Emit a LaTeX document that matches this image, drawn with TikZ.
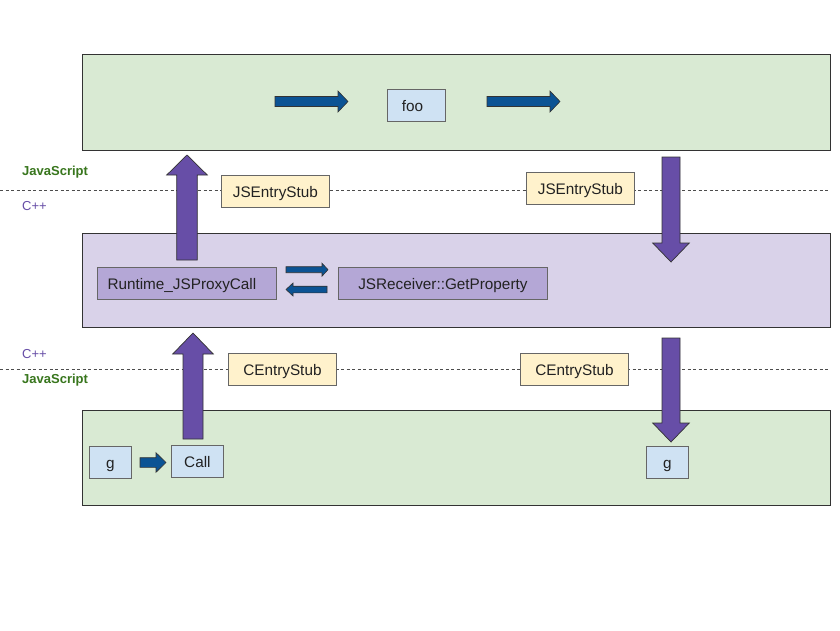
\documentclass[tikz,border=0pt]{standalone}
\usepackage{fontspec}
\setmainfont{Liberation Sans}
\definecolor{gbox}{HTML}{D9EAD3}
\definecolor{pbox}{HTML}{D9D2E9}
\definecolor{bbox}{HTML}{CFE2F3}
\definecolor{ybox}{HTML}{FFF2CC}
\definecolor{rbox}{HTML}{B4A7D6}
\definecolor{parrow}{HTML}{674EA7}
\definecolor{barrow}{HTML}{0B5394}
\definecolor{jsgreen}{HTML}{38761D}
\definecolor{cpurple}{HTML}{674EA7}
\definecolor{edge}{HTML}{333333}
\definecolor{txt}{HTML}{222222}
\newcommand\myharrow[6]{% xstart, xbase, xtip, y, h, H
  (#1,{#4-#5}) -- (#2,{#4-#5}) -- (#2,{#4-#6}) -- (#3,#4) -- (#2,{#4+#6}) -- (#2,{#4+#5}) -- (#1,{#4+#5}) -- cycle}
\newcommand\myvarrow[6]{% x, ystart, ybase, ytip, w, W
  ({#1-#5},#2) -- ({#1-#5},#3) -- ({#1-#6},#3) -- (#1,#4) -- ({#1+#6},#3) -- ({#1+#5},#3) -- ({#1+#5},#2) -- cycle}
\tikzset{
  layer/.style={draw=edge, line width=0.9pt, anchor=north west, inner sep=0pt},
  item/.style={draw=black!60, line width=0.8pt, anchor=north west, inner sep=0pt,
    text height=12.5pt, text depth=0pt,
    font=\fontsize{15.3}{17}\selectfont, text=txt},
  jsbox/.style={item, fill=bbox},
  stubbox/.style={item, fill=ybox},
  rtbox/.style={item, fill=rbox},
  sep/.style={draw=black!70, line width=0.7pt, dash pattern=on 3pt off 2.5pt},
  lbljs/.style={anchor=west, inner sep=0pt, text=jsgreen, font=\fontsize{13}{15}\selectfont\bfseries},
  lblcpp/.style={anchor=west, inner sep=0pt, text=cpurple, font=\fontsize{13}{15}\selectfont},
  bigarrow/.style={fill=parrow, draw=edge, line width=0.7pt},
  smallarrow/.style={fill=barrow, draw=edge, line width=0.6pt},
}
\begin{document}
\begin{tikzpicture}[x=1pt,y=-1pt]
\useasboundingbox[fill=white] (0,0) rectangle (840,630);
% separators
\coordinate (s1a) at (0,190); \coordinate (s1b) at (830,190);
\coordinate (s2a) at (0,369); \coordinate (s2b) at (830,369);
\draw[sep] (s1a) -- (s1b);
\draw[sep] (s2a) -- (s2b);
\node[lbljs] (js1) at (22,172) {JavaScript};
\node[lblcpp] (cpp1) at (22,206.5) {C++};
\node[lblcpp] (cpp2) at (22,354.5) {C++};
\node[lbljs] (js2) at (22,380) {JavaScript};
% layers
\node[layer, fill=gbox, minimum width=748pt, minimum height=96pt] (jstop) at (82,54) {};
\node[layer, fill=pbox, minimum width=748pt, minimum height=94pt] (cpp) at (82,233) {};
\node[layer, fill=gbox, minimum width=748pt, minimum height=95pt] (jsbot) at (82,410) {};
% items
\node[jsbox, minimum width=58pt, minimum height=32pt] (foo) at (387,89) {foo\hspace*{8pt}};
\node[rtbox, minimum width=179pt, minimum height=32pt] (rt) at (97,267) {Runtime\_JSProxyCall\hspace*{10pt}};
\node[rtbox, minimum width=209pt, minimum height=32pt] (recv) at (338,267) {JSReceiver::GetProperty};
\node[jsbox, minimum width=42pt, minimum height=32pt] (g1) at (89,446) {g};
\node[jsbox, minimum width=52pt, minimum height=32pt] (call) at (171,445) {Call};
\node[jsbox, minimum width=42pt, minimum height=32pt] (g2) at (646,446) {g};
% stubs
\node[stubbox, minimum width=108pt, minimum height=32pt] (jse1) at (221,175) {JSEntryStub};
\node[stubbox, minimum width=108pt, minimum height=32pt] (jse2) at (526,172) {JSEntryStub};
\node[stubbox, minimum width=108pt, minimum height=32pt] (ce1) at (228,353) {CEntryStub};
\node[stubbox, minimum width=108pt, minimum height=32pt] (ce2) at (520,353) {CEntryStub};
% big purple arrows
\path[bigarrow] \myvarrow{187}{260}{175}{155}{10.3}{20.3};
\path[bigarrow] \myvarrow{671}{157}{243}{262}{9}{18.3};
\path[bigarrow] \myvarrow{193}{439}{354}{333}{10}{20.3};
\path[bigarrow] \myvarrow{671}{338}{423}{442}{9}{18.3};
% small blue arrows
\path[smallarrow] \myharrow{275}{338}{348}{101.5}{5}{10.5};
\path[smallarrow] \myharrow{487}{550}{560}{101.5}{5}{10.5};
\path[smallarrow] \myharrow{286}{322}{328}{269.7}{3}{6.5};
\path[smallarrow] \myharrow{327}{293}{286}{289.5}{3.3}{6.5};
\path[smallarrow] \myharrow{140}{156}{166}{462.5}{4.8}{9.8};
\end{tikzpicture}
\end{document}
